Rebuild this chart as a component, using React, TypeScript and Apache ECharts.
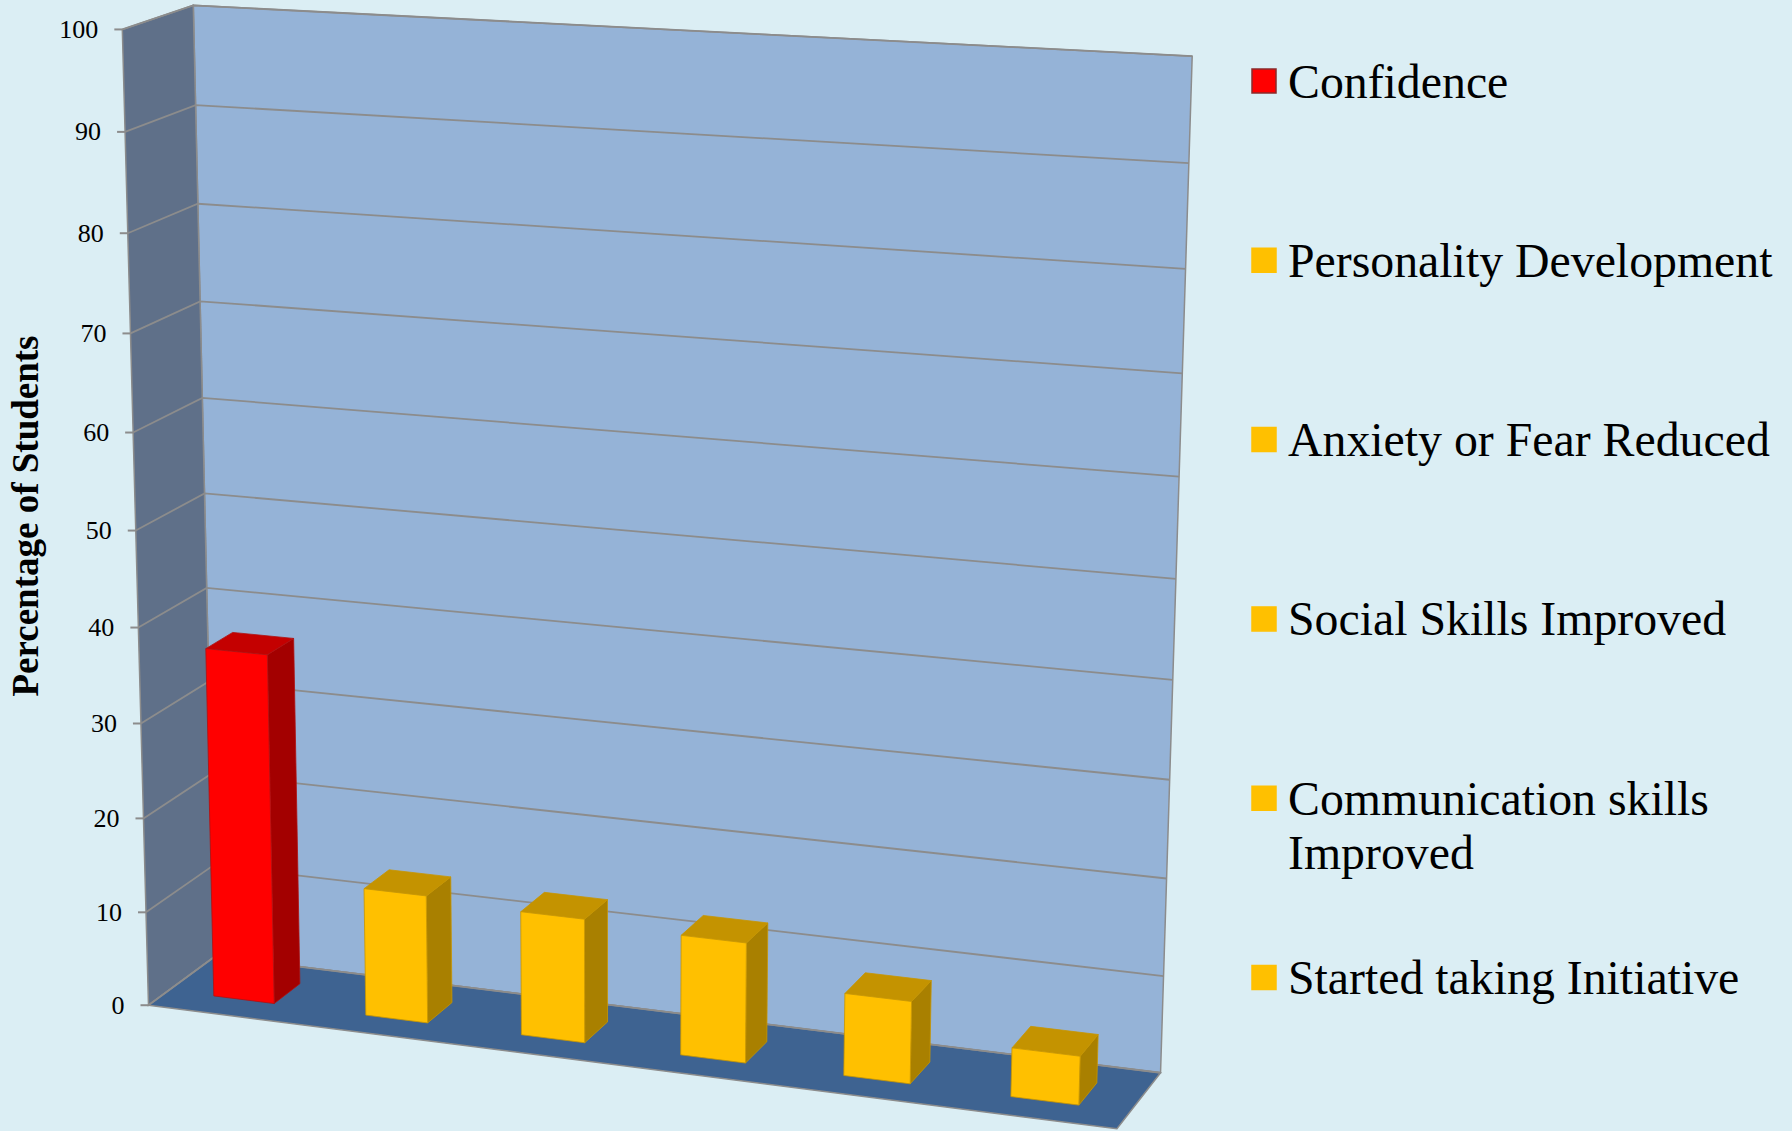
import React, { useEffect, useRef } from "react";
import * as echarts from "echarts";

// ---------------- data ----------------
const categories = [
  "Confidence",
  "Personality Development",
  "Anxiety or Fear Reduced",
  "Social Skills Improved",
  "Communication skills Improved",
  "Started taking Initiative",
];
const values = [37, 13.5, 13, 12.5, 8.5, 5];
const yTicks = [0, 10, 20, 30, 40, 50, 60, 70, 80, 90, 100];
const yAxisTitle = "Percentage of Students";

// ---------------- styles / layout ----------------
const W = 1792;
const H = 1131;
const FONT = '"Liberation Serif", "Times New Roman", "DejaVu Serif", serif';
const BG = "#DBEEF4";
const BACK_WALL = "#95B3D7";
const SIDE_WALL = "#5F7089";
const FLOOR = "#3E6391";
const GRID_LINE = "#8C8C8C";

const RED = { front: "#FF0000", side: "#A30000", top: "#C40000", edge: "#B01010", legendStroke: "#8B2A2A" };
const GOLD = { front: "#FFC000", side: "#A98000", top: "#C49300", edge: "#C89600", legendStroke: "#FFC000" };
const barPalette = [RED, GOLD, GOLD, GOLD, GOLD, GOLD];

const BAR_WIDTH_FRAC = 0.4; // of category band
const BAR_Z0 = 0.3; // depth of bar front (0 = front, 1 = back wall)
const BAR_Z1 = 0.7;

// Frame calibration of the 3D box (screen px) used to fit a perspective camera
const EDGE_FRONT_LEFT = { x0: 151, x1: 120, y: [1003, 912, 817, 723, 628, 530, 433, 334, 234, 132, 30] };
const EDGE_BACK_LEFT = { x0: 213, x1: 196, y: [957, 868, 777, 683, 586, 491, 397, 301, 203, 105, 6] };
const EDGE_BACK_RIGHT = { x0: 1160, x1: 1192, y: [1072, 975, 878, 779, 679, 579, 478, 374, 270, 163, 55] };
const FRONT_RIGHT_BOTTOM = [1118, 1131];

function buildSamples(): number[][] {
  const s: number[][] = [];
  const edges: [any, number, number][] = [
    [EDGE_FRONT_LEFT, 0, 0],
    [EDGE_BACK_LEFT, 0, 1],
    [EDGE_BACK_RIGHT, 1, 1],
  ];
  for (const [e, X, Z] of edges) {
    e.y.forEach((py: number, k: number) => {
      const v = k / (e.y.length - 1);
      s.push([X, v, Z, e.x0 + (e.x1 - e.x0) * v, py]);
    });
  }
  s.push([1, 0, 0, FRONT_RIGHT_BOTTOM[0], FRONT_RIGHT_BOTTOM[1]]);
  return s;
}

const S = 1000;
function fitProjection(samples: number[][]): number[] {
  const n = 11;
  const M = Array.from({ length: n }, () => new Array(n + 1).fill(0));
  for (const [X, Y, Z, px, py] of samples) {
    const x = px / S;
    const y = py / S;
    const r1 = [X, Y, Z, 1, 0, 0, 0, 0, -x * X, -x * Y, -x * Z];
    const r2 = [0, 0, 0, 0, X, Y, Z, 1, -y * X, -y * Y, -y * Z];
    const rows: [number[], number][] = [
      [r1, x],
      [r2, y],
    ];
    for (const [r, b] of rows) {
      for (let i = 0; i < n; i++) {
        for (let j = 0; j < n; j++) M[i][j] += r[i] * r[j];
        M[i][n] += r[i] * b;
      }
    }
  }
  for (let c = 0; c < n; c++) {
    let p = c;
    for (let r = c + 1; r < n; r++) if (Math.abs(M[r][c]) > Math.abs(M[p][c])) p = r;
    const tmp = M[c];
    M[c] = M[p];
    M[p] = tmp;
    for (let r = 0; r < n; r++) {
      if (r === c) continue;
      const f = M[r][c] / M[c][c];
      for (let k = c; k <= n; k++) M[r][k] -= f * M[c][k];
    }
  }
  return M.map((row, i) => row[n] / row[i]);
}

const CAM = fitProjection(buildSamples());
function proj(X: number, Y: number, Z: number): number[] {
  const m = CAM;
  const w = m[8] * X + m[9] * Y + m[10] * Z + 1;
  return [
    ((m[0] * X + m[1] * Y + m[2] * Z + m[3]) / w) * S,
    ((m[4] * X + m[5] * Y + m[6] * Z + m[7]) / w) * S,
  ];
}

function normalizers(params: any) {
  const cs = params.coordSys;
  return {
    nx: (px: number) => (px - cs.x) / cs.width,
    ny: (py: number) => (cs.y + cs.height - py) / cs.height,
    cs,
  };
}

const LEGEND_X = 1252;
const LEGEND_TEXT_X = 1288;
const LEGEND_Y0 = 81;
const LEGEND_STEP = 179.3;
const LEGEND_FONT = 47.8;
const LEGEND_LINE = 54;
const MARKER = 24;

function buildOption(): any {
  const legendGraphics: any[] = [];
  categories.forEach((name, i) => {
    const cy = LEGEND_Y0 + i * LEGEND_STEP;
    const pal = barPalette[i];
    legendGraphics.push({
      type: "rect",
      shape: { x: LEGEND_X, y: cy - MARKER / 2, width: MARKER, height: MARKER },
      style: { fill: pal.front, stroke: pal.legendStroke, lineWidth: 1.5 },
    });
    legendGraphics.push({
      type: "text",
      x: LEGEND_TEXT_X,
      y: cy - LEGEND_LINE / 2,
      style: {
        text: name,
        fill: "#000",
        fontSize: LEGEND_FONT,
        fontFamily: FONT,
        width: 500,
        overflow: "break",
        lineHeight: LEGEND_LINE,
        align: "left",
        verticalAlign: "top",
      },
    });
  });

  return {
    animation: false,
    backgroundColor: BG,
    grid: { left: 60, right: 16, top: 0, bottom: 99 },
    xAxis: { type: "category", data: categories, show: false },
    yAxis: { type: "value", min: 0, max: 100, interval: 10, show: false },
    graphic: [
      {
        type: "text",
        x: 25,
        y: 516,
        rotation: Math.PI / 2,
        style: {
          text: yAxisTitle,
          fill: "#000",
          fontSize: 37,
          fontWeight: "bold",
          fontFamily: FONT,
          align: "center",
          verticalAlign: "middle",
        },
      },
      ...legendGraphics,
    ],
    series: [
      {
        type: "custom",
        name: "walls",
        z: 1,
        silent: true,
        data: [[0, 0]],
        renderItem: (params: any, api: any) => {
          const { ny } = normalizers(params);
          const y0 = ny(api.coord([0, yTicks[0]])[1]);
          const y1 = ny(api.coord([0, yTicks[yTicks.length - 1]])[1]);
          const poly = (pts: number[][], fill: string) => ({
            type: "polygon",
            shape: { points: pts.map((p) => proj(p[0], p[1], p[2])) },
            style: { fill, stroke: GRID_LINE, lineWidth: 1.5 },
          });
          return {
            type: "group",
            children: [
              poly([[0, y0, 1], [1, y0, 1], [1, y1, 1], [0, y1, 1]], BACK_WALL),
              poly([[0, y0, 0], [0, y0, 1], [0, y1, 1], [0, y1, 0]], SIDE_WALL),
              poly([[0, y0, 0], [1, y0, 0], [1, y0, 1], [0, y0, 1]], FLOOR),
            ],
          };
        },
      },
      {
        type: "custom",
        name: "gridlines",
        z: 2,
        silent: true,
        data: yTicks.map((v) => [0, v]),
        renderItem: (params: any, api: any) => {
          const { ny } = normalizers(params);
          const v = api.value(1);
          const y = ny(api.coord([0, v])[1]);
          const a = proj(0, y, 0);
          const b = proj(0, y, 1);
          const c = proj(1, y, 1);
          return {
            type: "group",
            children: [
              {
                type: "polyline",
                shape: { points: [a, b, c] },
                style: { stroke: GRID_LINE, lineWidth: 1.8, fill: "none" },
              },
              {
                type: "line",
                shape: { x1: a[0] - 8, y1: a[1], x2: a[0], y2: a[1] },
                style: { stroke: GRID_LINE, lineWidth: 2 },
              },
              {
                type: "text",
                x: a[0] - 24,
                y: a[1],
                style: {
                  text: String(v),
                  fill: "#000",
                  fontSize: 26,
                  fontFamily: FONT,
                  align: "right",
                  verticalAlign: "middle",
                },
              },
            ],
          };
        },
      },
      {
        type: "custom",
        name: "bars",
        z: 3,
        data: values.map((v, i) => [i, v]),
        renderItem: (params: any, api: any) => {
          const { nx, ny, cs } = normalizers(params);
          const idx = api.value(0);
          const val = api.value(1);
          const top = api.coord([idx, val]);
          const base = api.coord([idx, 0]);
          const band = api.size([1, 0])[0];
          const xc = nx(top[0]);
          const hw = (band * BAR_WIDTH_FRAC) / 2 / cs.width;
          const x0 = xc - hw;
          const x1 = xc + hw;
          const y0 = ny(base[1]);
          const y1 = ny(top[1]);
          const pal = barPalette[params.dataIndex];
          const poly = (pts: number[][], fill: string) => ({
            type: "polygon",
            shape: { points: pts.map((p) => proj(p[0], p[1], p[2])) },
            style: { fill, stroke: pal.edge, lineWidth: 0.8 },
          });
          return {
            type: "group",
            children: [
              poly([[x1, y0, BAR_Z0], [x1, y0, BAR_Z1], [x1, y1, BAR_Z1], [x1, y1, BAR_Z0]], pal.side),
              poly([[x0, y1, BAR_Z0], [x1, y1, BAR_Z0], [x1, y1, BAR_Z1], [x0, y1, BAR_Z1]], pal.top),
              poly([[x0, y0, BAR_Z0], [x1, y0, BAR_Z0], [x1, y1, BAR_Z0], [x0, y1, BAR_Z0]], pal.front),
            ],
          };
        },
      },
    ],
  };
}

export default function App() {
  const ref = useRef<HTMLDivElement>(null);
  useEffect(() => {
    if (!ref.current) return;
    const chart = echarts.init(ref.current, null, { renderer: "svg" });
    chart.setOption(buildOption());
    return () => chart.dispose();
  }, []);
  return (
    <div
      ref={ref}
      style={{ position: "fixed", left: 0, top: 0, width: W, height: H, background: BG }}
    />
  );
}
